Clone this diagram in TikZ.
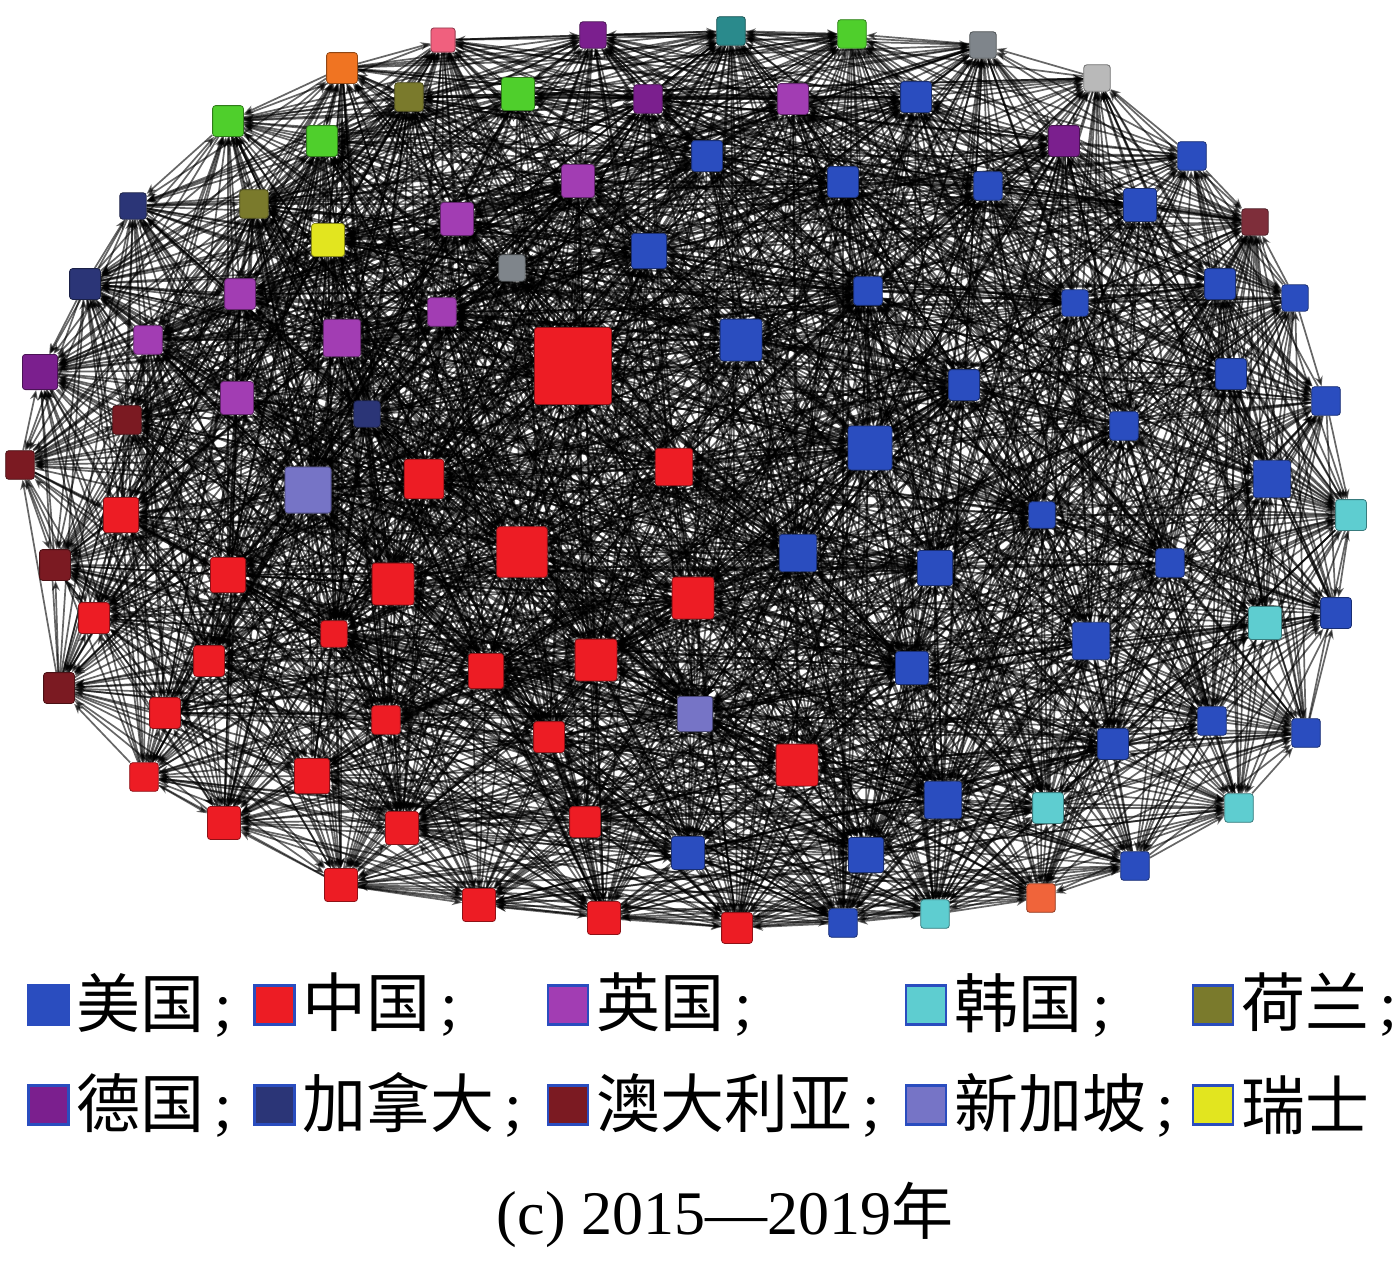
\documentclass[tikz,border=0pt]{standalone}
\usepackage{fontspec}
\setmainfont{Liberation Serif}
\newfontfamily\cjk{Noto Sans CJK SC}
\usetikzlibrary{arrows.meta}
\pgfdeclarelayer{bg}
\pgfsetlayers{bg,main}
\definecolor{cUS}{HTML}{2A4DBF}
\definecolor{cCN}{HTML}{ED1C24}
\definecolor{cUK}{HTML}{A23DB3}
\definecolor{cDE}{HTML}{7B1F8E}
\definecolor{cCA}{HTML}{2B3577}
\definecolor{cAU}{HTML}{7B1A22}
\definecolor{cSG}{HTML}{7674C6}
\definecolor{cKR}{HTML}{5ECDD0}
\definecolor{cNL}{HTML}{7A7A2C}
\definecolor{cCH}{HTML}{E2E51F}
\definecolor{cPK}{HTML}{F0607E}
\definecolor{cTL}{HTML}{2A8A8C}
\definecolor{cGR}{HTML}{4FCF2C}
\definecolor{cGY}{HTML}{7F858B}
\definecolor{cLG}{HTML}{B9B9B9}
\definecolor{cOR}{HTML}{F07422}
\definecolor{cOT}{HTML}{F0643A}
\definecolor{cMR}{HTML}{7E2E3A}
\definecolor{legB}{HTML}{2A4DBF}
\begin{document}
\begin{tikzpicture}[x=1pt,y=-1pt,
  nd/.style={rectangle,rounded corners=3pt,inner sep=0pt,line width=0.8pt},
  edge/.style={draw=black,opacity=0.6,line width=1.7pt,-{Stealth[length=10pt,width=8pt]}},
  legbox/.style={rectangle,inner sep=0pt,minimum width=40pt,minimum height=39pt,draw=legB,line width=2.6pt},
  legtext/.style={anchor=west,inner sep=0pt,font=\fontsize{64}{64}\selectfont},
  captext/.style={inner sep=0pt,font=\fontsize{62}{62}\selectfont}]
\useasboundingbox (0,0) rectangle (1398,1270);
\begin{pgfonlayer}{bg}
\fill[white] (0,0) rectangle (1398,1270);
\end{pgfonlayer}
\foreach \x/\y/\s/\c [count=\i] in {
443/40/22/PK, 593/35/24/DE, 731/31/26/TL, 852/34/26/GR, 983/45/24/GY,
1097/78/24/LG, 342/68/28/OR, 409/97/26/NL, 518/94/30/GR, 648/99/26/DE,
793/99/28/UK, 916/97/28/US, 1064/141/28/DE, 1192/156/26/US, 228/121/28/GR,
322/141/28/GR, 707/156/28/US, 578/181/30/UK, 843/182/28/US, 988/186/26/US,
1140/205/30/US, 1255/222/24/MR, 133/206/24/CA, 254/204/26/NL, 457/219/30/UK,
328/240/30/CH, 649/251/32/US, 512/268/24/GY, 85/284/28/CA, 240/294/28/UK,
442/312/26/UK, 868/291/26/US, 1075/303/24/US, 1220/284/28/US, 1295/298/24/US,
148/340/26/UK, 342/338/34/UK, 573/366/70/CN, 741/340/38/US, 40/372/32/DE,
237/398/30/UK, 367/414/24/CA, 964/385/28/US, 1231/374/28/US, 1326/401/26/US,
127/420/26/AU, 1124/426/26/US, 870/448/40/US, 20/465/26/AU, 308/490/42/SG,
424/479/36/CN, 674/467/34/CN, 1272/479/34/US, 1351/515/28/KR, 121/515/32/CN,
1042/515/24/US, 522/552/46/CN, 798/553/34/US, 55/565/28/AU, 228/575/32/CN,
393/584/38/CN, 935/568/32/US, 1170/563/26/US, 693/598/38/CN, 1265/623/30/KR,
1336/613/28/US, 94/618/28/CN, 334/634/24/CN, 1091/641/34/US, 209/661/28/CN,
486/671/32/CN, 596/660/38/CN, 912/668/30/US, 59/688/28/AU, 695/714/32/SG,
165/713/28/CN, 386/720/26/CN, 1212/721/26/US, 1306/733/26/US, 549/737/28/CN,
1113/744/28/US, 797/765/38/CN, 144/777/26/CN, 312/776/32/CN, 943/800/34/US,
1048/808/28/KR, 1239/808/26/KR, 224/823/30/CN, 402/828/30/CN, 585/822/28/CN,
688/853/30/US, 866/855/32/US, 1135/866/26/US, 341/885/30/CN, 479/905/30/CN,
604/918/30/CN, 737/928/28/CN, 843/923/26/US, 935/914/26/KR, 1041/898/26/OT}{
  \node[nd,fill=c\c,draw=c\c!60!black,minimum size={\s*1.1}] (n\i) at (\x,\y) {};
  \expandafter\xdef\csname nx\i\endcsname{\x}
  \expandafter\xdef\csname ny\i\endcsname{\y}
}
\begin{pgfonlayer}{bg}
\pgfmathsetseed{7}
\foreach \i in {1,...,99}{
  \pgfmathtruncatemacro\js{\i+1}
  \foreach \j in {\js,...,100}{
    \pgfmathsetmacro\d{veclen((\csname nx\i\endcsname-\csname nx\j\endcsname)/100,(\csname ny\i\endcsname-\csname ny\j\endcsname)/100)}
    \pgfmathsetmacro\p{1.15-\d/9.5}
    \pgfmathsetmacro\r{rnd}
    \ifdim\r pt<\p pt
      \pgfmathsetmacro\q{rnd}
      \ifdim\q pt<0.5pt
        \draw[edge] (n\i) -- (n\j);
      \else
        \draw[edge] (n\j) -- (n\i);
      \fi
    \fi
  }
}
\end{pgfonlayer}
% legend
\node[legbox,fill=cUS,draw=cUS] (l1) at (48.5,1005) {};
\node[legtext] (t1) at (76,1005) {{\cjk 美国}\,;};
\node[legbox,fill=cCN] (l2) at (274.5,1005) {};
\node[legtext] (t2) at (302,1005) {{\cjk 中国}\,;};
\node[legbox,fill=cUK] (l3) at (568,1005) {};
\node[legtext] (t3) at (596,1005) {{\cjk 英国}\,;};
\node[legbox,fill=cKR] (l4) at (926,1005) {};
\node[legtext] (t4) at (954,1005) {{\cjk 韩国}\,;};
\node[legbox,fill=cNL] (l5) at (1213,1005) {};
\node[legtext] (t5) at (1241,1005) {{\cjk 荷兰}\,;};
\node[legbox,fill=cDE] (l6) at (48.5,1105) {};
\node[legtext] (t6) at (76,1105) {{\cjk 德国}\,;};
\node[legbox,fill=cCA] (l7) at (274.5,1105) {};
\node[legtext] (t7) at (302,1105) {{\cjk 加拿大}\,;};
\node[legbox,fill=cAU] (l8) at (568,1105) {};
\node[legtext] (t8) at (596,1105) {{\cjk 澳大利亚}\,;};
\node[legbox,fill=cSG] (l9) at (926,1105) {};
\node[legtext] (t9) at (954,1105) {{\cjk 新加坡}\,;};
\node[legbox,fill=cCH] (l10) at (1213,1105) {};
\node[legtext] (t10) at (1241,1105) {{\cjk 瑞士}};
\node[captext] (cap) at (725,1215) {(c) 2015---2019{\cjk 年}};
\end{tikzpicture}
\end{document}
